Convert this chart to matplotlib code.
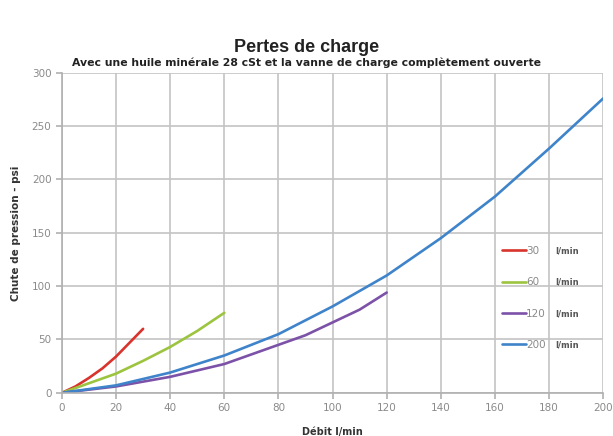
import matplotlib.pyplot as plt

# flow (l/min) and pressure drop (psi) for each valve size
flow_30 = [0, 5, 10, 15, 20, 25, 30]
drop_30 = [0, 6, 14, 23, 34, 47, 60]

flow_60 = [0, 10, 20, 30, 40, 50, 60]
drop_60 = [0, 9, 18, 30, 43, 58, 75]

flow_120 = [0, 20, 40, 60, 80, 90, 100, 110, 120]
drop_120 = [0, 6, 15, 27, 45, 54, 66, 78, 94]

flow_200 = [0, 20, 40, 60, 80, 100, 120, 140, 160, 180, 200]
drop_200 = [0, 7, 19, 35, 55, 81, 110, 145, 184, 229, 276]

sizes = ["30", "60", "120", "200"]
colors = ["#d8332c", "#9cc43f", "#7c52a8", "#3f84ca"]

fig = plt.figure(figsize=(6.13, 4.36), dpi=100)
ax = fig.add_axes([0.101, 0.099, 0.883, 0.734])

series = [(flow_30, drop_30), (flow_60, drop_60), (flow_120, drop_120), (flow_200, drop_200)]
for (x, y), lab, col in zip(series, sizes, colors):
    ax.plot(x, y, color=col, lw=1.9, label=lab, solid_capstyle="round")

ax.set_xlim(0, 200)
ax.set_ylim(0, 300)
ax.set_xticks(range(0, 201, 20))
ax.set_yticks(range(0, 301, 50))
ax.grid(True, color="#c4c4c4", lw=1.2)
ax.set_axisbelow(True)
for side in ["top", "right"]:
    ax.spines[side].set_visible(False)
for side in ["left", "bottom"]:
    ax.spines[side].set_color("#b0b0b0")
    ax.spines[side].set_linewidth(1.2)
ax.tick_params(colors="#b0b0b0", labelcolor="#8a8a8a", labelsize=7.5, length=4, width=1.2)

ax.set_xlabel("Débit l/min", fontsize=7, fontweight="bold", color="#333333", labelpad=10)
ax.set_ylabel("Chute de pression - psi", fontsize=7.5, fontweight="bold", color="#333333", labelpad=8)

fig.text(0.5, 0.89, "Pertes de charge", ha="center", va="center",
         fontsize=13, fontweight="bold", family="Liberation Sans", color="#222222")
fig.text(0.5, 0.857, "Avec une huile minérale 28 cSt et la vanne de charge complètement ouverte",
         ha="center", va="center", fontsize=7.8, fontweight="bold", family="DejaVu Sans",
         color="#222222")

leg = ax.legend(loc="upper left", bbox_to_anchor=(0.795, 0.488), frameon=False,
                fontsize=7.5, handlelength=2.3, handletextpad=0.05, labelspacing=2.05)
for t in leg.get_texts():
    t.set_color("#8a8a8a")

# unit column next to the legend numbers
fig.canvas.draw()
to_ax = ax.transAxes.inverted()
for t in leg.get_texts():
    bb = t.get_window_extent()
    _, yc = to_ax.transform((0, (bb.y0 + bb.y1) / 2))
    ax.text(0.912, yc, "l/min", transform=ax.transAxes, ha="left", va="center",
            fontsize=6, fontweight="bold", color="#555555")

fig.savefig("out.png", dpi=100)
